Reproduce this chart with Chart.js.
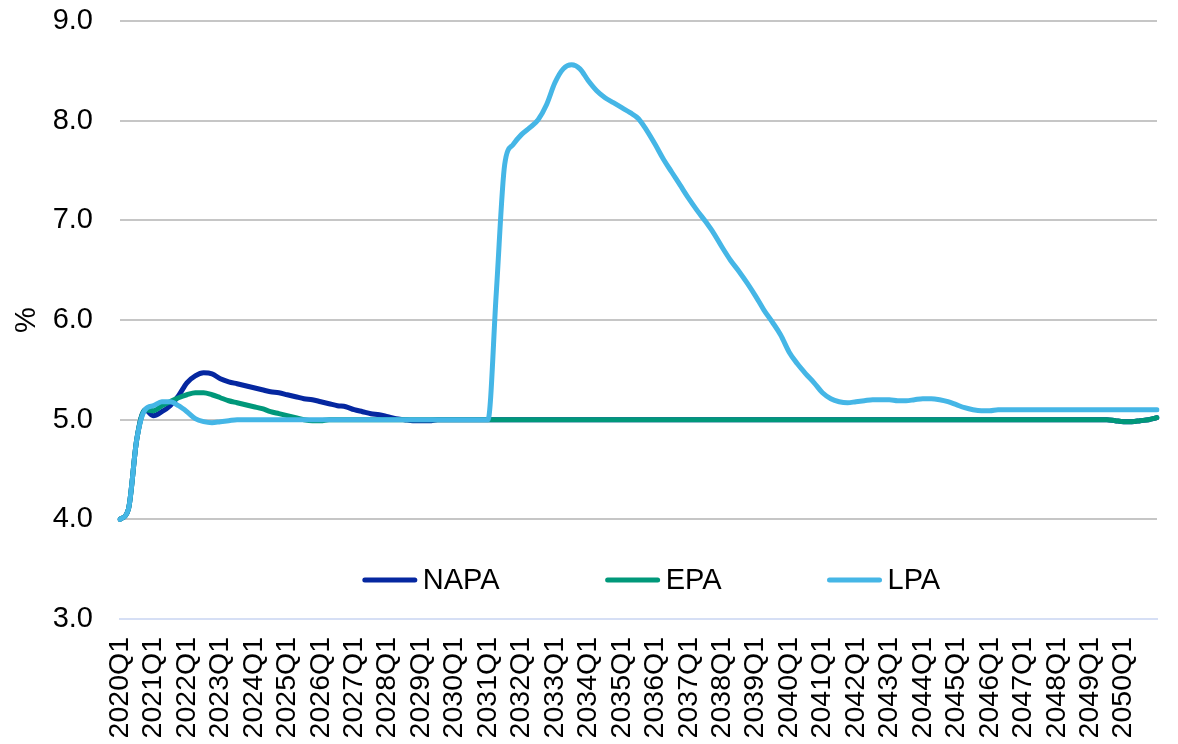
<!DOCTYPE html>
<html>
<head>
<meta charset="utf-8">
<script src="https://cdn.jsdelivr.net/npm/chart.js@4.4.1/dist/chart.umd.min.js"></script>
<style>
  html, body { margin: 0; padding: 0; background: #ffffff; }
  #wrap { width: 1178px; height: 744px; }
</style>
</head>
<body>
<div id="wrap"><canvas id="c" width="1178" height="744"></canvas></div>
<script>
// Quarterly periods 2020Q1 .. 2051Q1
const firstYear = 2020;
const lastYear = 2051;
const quarters = [];
for (let y = firstYear; y <= lastYear; y++) {
  for (let q = 1; q <= 4; q++) {
    if (y === lastYear && q > 1) break;
    quarters.push(y + 'Q' + q);
  }
}
// Axis labels: first quarter of each year, 2020 .. 2050
const tickLabels = [
  '2020Q1','2021Q1','2022Q1','2023Q1','2024Q1','2025Q1','2026Q1','2027Q1',
  '2028Q1','2029Q1','2030Q1','2031Q1','2032Q1','2033Q1','2034Q1','2035Q1',
  '2036Q1','2037Q1','2038Q1','2039Q1','2040Q1','2041Q1','2042Q1','2043Q1',
  '2044Q1','2045Q1','2046Q1','2047Q1','2048Q1','2049Q1','2050Q1'
];

// Series values, %
const napa = [
  4.00,4.10,4.80,5.10,5.04,5.08,5.14,5.24,5.37,5.44,
  5.47,5.46,5.41,5.38,5.36,5.34,5.32,5.30,5.28,5.27,
  5.25,5.23,5.21,5.20,5.18,5.16,5.14,5.13,5.10,5.08,
  5.06,5.05,5.03,5.01,5.00,4.99,4.99,4.99,5.00,5.00,
  5.00,5.00,5.00,5.00,5.00,5.00,5.00,5.00,5.00,5.00,
  5.00,5.00,5.00,5.00,5.00,5.00,5.00,5.00,5.00,5.00,
  5.00,5.00,5.00,5.00,5.00,5.00,5.00,5.00,5.00,5.00,
  5.00,5.00,5.00,5.00,5.00,5.00,5.00,5.00,5.00,5.00,
  5.00,5.00,5.00,5.00,5.00,5.00,5.00,5.00,5.00,5.00,
  5.00,5.00,5.00,5.00,5.00,5.00,5.00,5.00,5.00,5.00,
  5.00,5.00,5.00,5.00,5.00,5.00,5.00,5.00,5.00,5.00,
  5.00,5.00,5.00,5.00,5.00,5.00,5.00,5.00,5.00,4.99,
  4.98,4.98,4.99,5.00,5.02
];
const epa = [
  4.00,4.10,4.80,5.10,5.09,5.14,5.18,5.22,5.25,5.27,
  5.27,5.25,5.22,5.19,5.17,5.15,5.13,5.11,5.08,5.06,
  5.04,5.02,5.00,4.99,4.99,5.00,5.00,5.00,5.00,5.00,
  5.00,5.00,5.00,5.00,5.00,5.00,5.00,5.00,5.00,5.00,
  5.00,5.00,5.00,5.00,5.00,5.00,5.00,5.00,5.00,5.00,
  5.00,5.00,5.00,5.00,5.00,5.00,5.00,5.00,5.00,5.00,
  5.00,5.00,5.00,5.00,5.00,5.00,5.00,5.00,5.00,5.00,
  5.00,5.00,5.00,5.00,5.00,5.00,5.00,5.00,5.00,5.00,
  5.00,5.00,5.00,5.00,5.00,5.00,5.00,5.00,5.00,5.00,
  5.00,5.00,5.00,5.00,5.00,5.00,5.00,5.00,5.00,5.00,
  5.00,5.00,5.00,5.00,5.00,5.00,5.00,5.00,5.00,5.00,
  5.00,5.00,5.00,5.00,5.00,5.00,5.00,5.00,5.00,4.99,
  4.98,4.98,4.99,5.00,5.02
];
const lpa = [
  4.00,4.10,4.80,5.10,5.14,5.18,5.18,5.14,5.08,5.01,
  4.98,4.97,4.98,4.99,5.00,5.00,5.00,5.00,5.00,5.00,
  5.00,5.00,5.00,5.00,5.00,5.00,5.00,5.00,5.00,5.00,
  5.00,5.00,5.00,5.00,5.00,5.00,5.00,5.00,5.00,5.00,
  5.00,5.00,5.00,5.00,5.00,6.28,7.56,7.76,7.86,7.93,
  8.01,8.16,8.38,8.52,8.56,8.52,8.40,8.30,8.23,8.18,
  8.13,8.08,8.02,7.90,7.76,7.61,7.48,7.35,7.22,7.10,
  6.99,6.87,6.73,6.60,6.49,6.37,6.24,6.10,5.98,5.85,
  5.68,5.56,5.46,5.37,5.27,5.21,5.18,5.17,5.18,5.19,
  5.20,5.20,5.20,5.19,5.19,5.20,5.21,5.21,5.20,5.18,
  5.15,5.12,5.10,5.09,5.09,5.10,5.10,5.10,5.10,5.10,
  5.10,5.10,5.10,5.10,5.10,5.10,5.10,5.10,5.10,5.10,
  5.10,5.10,5.10,5.10,5.10
];

const seriesNames = ['NAPA', 'EPA', 'LPA'];
const seriesColors = ['#0527a0', '#00987a', '#45b6e6'];
const yTicks = [3, 4, 5, 6, 7, 8, 9];

const FONT = '"Liberation Sans", Arial, sans-serif';
const TICK_SIZE = 29;
const XTICK_SIZE = 28.5;
const LEGEND_SIZE = 29;

// Legend drawn inside the plot area, centred low in the panel
const innerLegend = {
  id: 'innerLegend',
  afterDraw(chart) {
    const ctx = chart.ctx;
    const area = chart.chartArea;
    const sample = 54, gapText = 6, gapItem = 106;
    ctx.save();
    ctx.font = LEGEND_SIZE + 'px ' + FONT;
    const items = chart.data.datasets.map(ds => ({
      label: ds.label, color: ds.borderColor, w: ctx.measureText(ds.label).width
    }));
    let total = 0;
    items.forEach((it, i) => { total += sample + gapText + it.w + (i ? gapItem : 0); });
    let x = (area.left + area.right) / 2 + 13 - total / 2;
    const y = area.bottom - 39;
    items.forEach(it => {
      ctx.strokeStyle = it.color;
      ctx.lineWidth = 5;
      ctx.lineCap = 'round';
      ctx.beginPath();
      ctx.moveTo(x + 2, y);
      ctx.lineTo(x + sample - 2, y);
      ctx.stroke();
      ctx.fillStyle = '#000000';
      ctx.textBaseline = 'middle';
      ctx.textAlign = 'left';
      ctx.fillText(it.label, x + sample + gapText, y + 1);
      x += sample + gapText + it.w + gapItem;
    });
    ctx.restore();
  }
};

const values = [napa, epa, lpa];
const datasets = seriesNames.map((name, i) => ({
  label: name,
  data: values[i],
  borderColor: seriesColors[i],
  backgroundColor: seriesColors[i],
  borderWidth: 5,
  pointRadius: 0,
  cubicInterpolationMode: 'monotone',
  borderCapStyle: 'round',
  borderJoinStyle: 'round',
  fill: false,
  order: seriesNames.length - i
}));

new Chart(document.getElementById('c'), {
  type: 'line',
  data: { labels: quarters, datasets },
  options: {
    responsive: false,
    animation: false,
    events: [],
    layout: { padding: { top: 21, right: 21, bottom: 0, left: 0 } },
    plugins: {
      legend: { display: false },
      tooltip: { enabled: false }
    },
    scales: {
      x: {
        type: 'category',
        offset: false,
        grid: { display: false, drawTicks: false },
        border: { display: true, color: '#d6dff5', width: 2 },
        afterFit: axis => {
          axis.height = 125;
          axis.paddingLeft = 0;
          axis.paddingRight = 0;
        },
        ticks: {
          autoSkip: false,
          minRotation: 90,
          maxRotation: 90,
          padding: 18,
          color: '#000000',
          font: { family: FONT, size: XTICK_SIZE },
          callback: (v, i) => (i % 4 === 0 && tickLabels[i / 4] ? tickLabels[i / 4] : '')
        }
      },
      y: {
        min: 3,
        max: 9,
        afterBuildTicks: axis => { axis.ticks = yTicks.map(v => ({ value: v })); },
        afterFit: axis => {
          axis.width = 120;
          axis.paddingTop = 0;
          axis.paddingBottom = 0;
        },
        grid: {
          drawTicks: false,
          lineWidth: 2,
          color: c => (c.tick && c.tick.value === 3 ? '#d6dff5' : '#c6c6c6')
        },
        border: { display: false },
        ticks: {
          padding: 27,
          color: '#000000',
          font: { family: FONT, size: TICK_SIZE },
          callback: v => Number(v).toFixed(1)
        },
        title: {
          display: true,
          text: '%',
          color: '#000000',
          font: { family: FONT, size: TICK_SIZE },
          padding: { top: 10, bottom: 4 }
        }
      }
    }
  },
  plugins: [innerLegend]
});
</script>
</body>
</html>
